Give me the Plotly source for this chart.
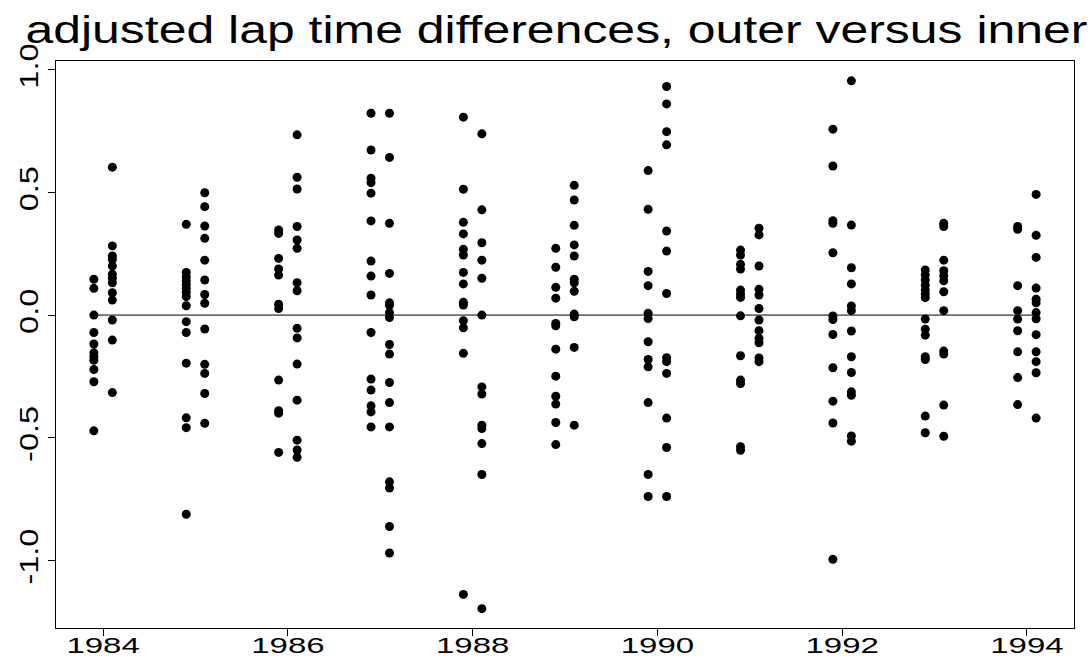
import plotly.graph_objects as go

years = [1984, 1985, 1986, 1987, 1988, 1989, 1990, 1991, 1992, 1993, 1994]

# left column of each year (year - 0.1)
left_vals = [
    [0.146, 0.109, 0.0, -0.071, -0.118, -0.154, -0.170, -0.184, -0.222, -0.272, -0.472],
    [0.370, 0.174, 0.156, 0.140, 0.125, 0.109, 0.093, 0.075, 0.038, -0.027, -0.071, -0.196, -0.419, -0.459, -0.812],
    [0.347, 0.333, 0.231, 0.188, 0.163, 0.044, 0.027, -0.265, -0.390, -0.400, -0.560],
    [0.823, 0.673, 0.558, 0.540, 0.497, 0.384, 0.220, 0.159, 0.082, -0.071, -0.261, -0.306, -0.370, -0.395, -0.456],
    [0.807, 0.513, 0.378, 0.331, 0.268, 0.245, 0.174, 0.127, 0.052, 0.041, -0.023, -0.052, -0.156, -1.139],
    [0.272, 0.195, 0.113, 0.069, -0.034, -0.044, -0.139, -0.249, -0.331, -0.363, -0.438, -0.528],
    [0.589, 0.431, 0.178, 0.120, 0.007, -0.014, -0.109, -0.181, -0.211, -0.357, -0.650, -0.740],
    [0.265, 0.245, 0.207, 0.188, 0.102, 0.086, 0.072, -0.003, -0.166, -0.265, -0.279, -0.537, -0.551],
    [0.758, 0.608, 0.385, 0.374, 0.254, -0.004, -0.018, -0.079, -0.215, -0.351, -0.440, -0.996],
    [0.184, 0.163, 0.143, 0.122, 0.102, 0.086, 0.071, -0.016, -0.058, -0.082, -0.170, -0.181, -0.412, -0.480],
    [0.361, 0.350, 0.120, 0.018, -0.016, -0.064, -0.150, -0.255, -0.365],
]

# right column of each year (year + 0.1)
right_vals = [
    [0.603, 0.282, 0.241, 0.227, 0.200, 0.166, 0.150, 0.132, 0.091, 0.061, -0.020, -0.102, -0.316],
    [0.499, 0.442, 0.363, 0.313, 0.224, 0.143, 0.084, 0.048, -0.057, -0.201, -0.238, -0.320, -0.441],
    [0.735, 0.562, 0.514, 0.361, 0.306, 0.272, 0.132, 0.099, -0.054, -0.093, -0.200, -0.347, -0.510, -0.550, -0.580],
    [0.823, 0.643, 0.374, 0.170, 0.050, 0.040, 0.010, -0.010, -0.120, -0.159, -0.275, -0.357, -0.456, -0.680, -0.705, -0.862, -0.970],
    [0.739, 0.429, 0.295, 0.224, 0.150, 0.0, -0.293, -0.322, -0.449, -0.463, -0.524, -0.650, -1.197],
    [0.529, 0.469, 0.366, 0.286, 0.241, 0.146, 0.132, 0.097, 0.004, -0.007, -0.132, -0.449],
    [0.932, 0.861, 0.748, 0.694, 0.343, 0.261, 0.088, -0.174, -0.190, -0.238, -0.420, -0.540, -0.740],
    [0.354, 0.327, 0.200, 0.105, 0.082, 0.027, -0.020, -0.064, -0.095, -0.113, -0.175, -0.190],
    [0.955, 0.367, 0.193, 0.127, 0.037, 0.018, -0.065, -0.170, -0.234, -0.313, -0.327, -0.493, -0.514],
    [0.374, 0.361, 0.224, 0.181, 0.160, 0.140, 0.095, 0.018, -0.147, -0.159, -0.367, -0.494],
    [0.492, 0.325, 0.235, 0.110, 0.065, 0.050, 0.010, -0.015, -0.080, -0.150, -0.190, -0.235, -0.420],
]

x_ticks = [1984, 1986, 1988, 1990, 1992, 1994]
y_ticks = [-1.0, -0.5, 0.0, 0.5, 1.0]

offset = 0.1

xs, ys = [], []
for yr, lv, rv in zip(years, left_vals, right_vals):
    for v in lv:
        xs.append(yr - offset)
        ys.append(v)
    for v in rv:
        xs.append(yr + offset)
        ys.append(v)

fig = go.Figure()
fig.add_trace(go.Scatter(
    x=[min(xs), max(xs)], y=[0, 0], mode="lines",
    line=dict(color="black", width=1), hoverinfo="skip", showlegend=False))
fig.add_trace(go.Scatter(
    x=xs, y=ys, mode="markers",
    marker=dict(color="black", size=9, symbol="circle", line=dict(width=0)),
    showlegend=False))

font = "Liberation Sans, Arial, Helvetica, sans-serif"
fig.update_layout(
    width=1092, height=659,
    paper_bgcolor="white", plot_bgcolor="white",
    margin=dict(l=56, r=18, t=61, b=31),
    font=dict(family=font, color="black"),
    title=dict(text="adjusted lap time differences, outer versus inner",
               x=0.5096, xref="container", xanchor="center",
               y=0.955, yref="container", yanchor="middle",
               font=dict(size=38, family=font, color="black")),
    xaxis=dict(range=[1983.49, 1994.51], tickmode="array",
               tickvals=x_ticks, ticktext=[str(v) for v in x_ticks],
               automargin=False, ticklabelstandoff=-9,
               showgrid=False, zeroline=False, showline=True, mirror=True,
               linecolor="black", linewidth=1, ticks="outside", ticklen=7,
               tickcolor="black", tickfont=dict(size=22, family=font)),
    yaxis=dict(range=[-1.276, 1.036], tickmode="array",
               tickvals=y_ticks, ticktext=["%.1f" % v for v in y_ticks],
               tickangle=-90, automargin=False,
               showgrid=False, zeroline=False, showline=True, mirror=True,
               linecolor="black", linewidth=1, ticks="outside", ticklen=7,
               tickcolor="black", tickfont=dict(size=25, family=font)),
)

# remove the page margin, and widen glyphs along the text direction like the reference
post = """
document.body.style.margin = '0';
document.body.style.padding = '0';
var gd = document.getElementById('{plot_id}');
function stretchText(){
  var t = gd.querySelector('.gtitle');
  if (t) { t.setAttribute('lengthAdjust','spacingAndGlyphs'); t.setAttribute('textLength', 1062); }
  gd.querySelectorAll('.xtick text, .ytick text').forEach(function(el){
    if (!el.dataset.w) { el.dataset.w = el.getComputedTextLength(); }
    var k = el.closest('.xtick') ? 1.5 : 1.3;
    el.setAttribute('lengthAdjust','spacingAndGlyphs');
    el.setAttribute('textLength', parseFloat(el.dataset.w) * k);
  });
}
stretchText();
gd.on('plotly_afterplot', stretchText);
"""

fig.write_html("out.html", post_script=post, config={"displayModeBar": False})
